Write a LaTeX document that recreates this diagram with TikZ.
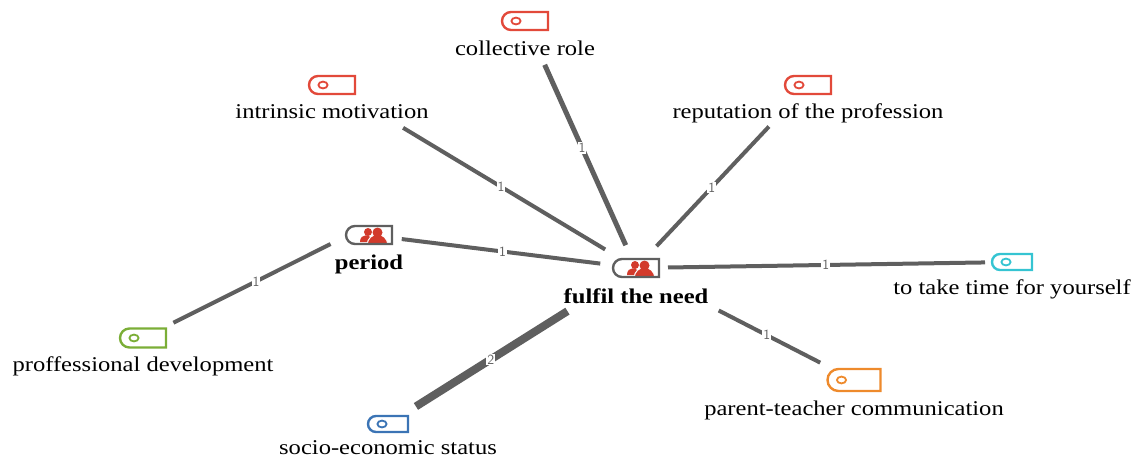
\documentclass[tikz,border=0pt]{standalone}
\usepackage{xcolor}
\usepackage{fontspec}
\setmainfont[FakeStretch=1.17]{Liberation Serif}
\usetikzlibrary{shapes.misc}
\definecolor{linkgray}{HTML}{5F5F5F}
\definecolor{tagred}{HTML}{E2493A}
\definecolor{persred}{HTML}{D23A2B}
\definecolor{taggreen}{HTML}{7BAE37}
\definecolor{tagblue}{HTML}{3B74B5}
\definecolor{tagcyan}{HTML}{35C4D2}
\definecolor{tagorange}{HTML}{EE8A2C}
\newcommand{\tagdot}{\draw[line width=1.8pt] ([xshift=14pt]path picture bounding box.west) ellipse (4.6pt and 3.4pt);}
\newcommand{\persons}{
  \fill[persred] ([shift={(-1pt,3pt)}]path picture bounding box.center) circle (4pt);
  \fill[persred] ([shift={(-9pt,-7pt)}]path picture bounding box.center) .. controls +(0pt,9pt) and +(-2pt,9pt) .. ([shift={(4pt,-7pt)}]path picture bounding box.center) -- cycle;
  \fill[persred,draw=white,line width=1pt] ([shift={(-2pt,-10pt)}]path picture bounding box.center) .. controls +(1pt,14pt) and +(-1pt,14pt) .. ([shift={(19pt,-10pt)}]path picture bounding box.center) -- cycle;
  \fill[persred] ([shift={(8.5pt,2.5pt)}]path picture bounding box.center) circle (5pt);
}
\begin{document}
\begin{tikzpicture}[x=1pt, y=-1pt, node distance={29pt},
    tagbox/.style = {rounded rectangle, rounded rectangle right arc=none, draw=#1, line width=2.4pt, minimum height=18pt, minimum width=46pt, inner sep=0pt, path picture={\begin{scope}[color=#1]\tagdot\end{scope}}},
    groupbox/.style = {rounded rectangle, rounded rectangle right arc=none, draw=linkgray, line width=2.4pt, minimum height=18pt, minimum width=46pt, inner sep=0pt, path picture={\persons}},
    tagtext/.style = {font=\fontsize{21pt}{24pt}\selectfont, inner sep=0pt, text height=11pt, text depth=2pt},
    grouptext/.style = {font=\fontsize{21pt}{24pt}\selectfont\bfseries, inner sep=0pt, text height=11pt, text depth=2pt},
    link/.style = {linkgray, line width=#1},
    linkcount/.style = {font=\sffamily\fontsize{14pt}{14pt}\selectfont, text=linkgray, fill=white, inner sep=1pt}]
    \useasboundingbox (0,0) rectangle (1136,456);
    \node[groupbox] (need) at (636,268) {};
    \node[groupbox] (period) at (369,235) {};
    \node[tagbox=tagred] (role) at (525,21) {};
    \node[tagbox=tagred] (motivation) at (332,85) {};
    \node[tagbox=tagred] (reputation) at (808,85) {};
    \node[tagbox=tagcyan, minimum width=40pt, minimum height=16pt] (time) at (1012,262) {};
    \node[tagbox=tagorange, minimum width=53pt, minimum height=22pt] (parent) at (854,380) {};
    \node[tagbox=tagblue, minimum width=40pt, minimum height=16pt] (socio) at (388,424) {};
    \node[tagbox=taggreen, minimum height=19pt] (development) at (143,338) {};
    \node[grouptext] (needtext) [below of=need, node distance=31pt] {fulfil the need};
    \node[grouptext] (periodtext) [below of=period, node distance=30pt] {period};
    \node[tagtext] (roletext) [below of=role, node distance=30pt] {collective role};
    \node[tagtext] (motivationtext) [below of=motivation] {intrinsic motivation};
    \node[tagtext] (reputationtext) [below of=reputation] {reputation of the profession};
    \node[tagtext] (timetext) [below of=time, node distance=28pt] {to take time for yourself};
    \node[tagtext] (parenttext) [below of=parent, node distance=31pt] {parent-teacher communication};
    \node[tagtext] (sociotext) [below of=socio, node distance=25.5pt] {socio-economic status};
    \node[tagtext] (developmenttext) [below of=development] {proffessional development};
    \draw[link=5pt, shorten <=25pt, shorten >=48pt] (need.center) -- node[linkcount, pos=.486] (c1) {1} (role.center);
    \draw[link=4pt, shorten <=36pt, shorten >=83pt] (need.center) -- node[linkcount, pos=.444] (c2) {1} (motivation.center);
    \draw[link=4pt, shorten <=30pt, shorten >=57pt] (need.center) -- node[linkcount, pos=.44] (c3) {1} (reputation.center);
    \draw[link=4pt, shorten <=36pt, shorten >=33pt] (need.center) -- node[linkcount, pos=.5] (c4) {1} (period.center);
    \draw[link=4pt, shorten <=32pt, shorten >=27pt] (need.center) -- node[linkcount, pos=.505] (c5) {1} (time.center);
    \draw[link=4pt, shorten <=93pt, shorten >=38pt] (need.center) -- node[linkcount, pos=.6] (c6) {1} (parent.center);
    \draw[link=8pt, shorten <=81pt, shorten >=33pt] (need.center) -- node[linkcount, pos=.585] (c7) {2} (socio.center);
    \draw[link=4pt, shorten <=43pt, shorten >=34pt] (period.north) -- node[linkcount, pos=.5] (c8) {1} (development.center);
\end{tikzpicture}
\end{document}
